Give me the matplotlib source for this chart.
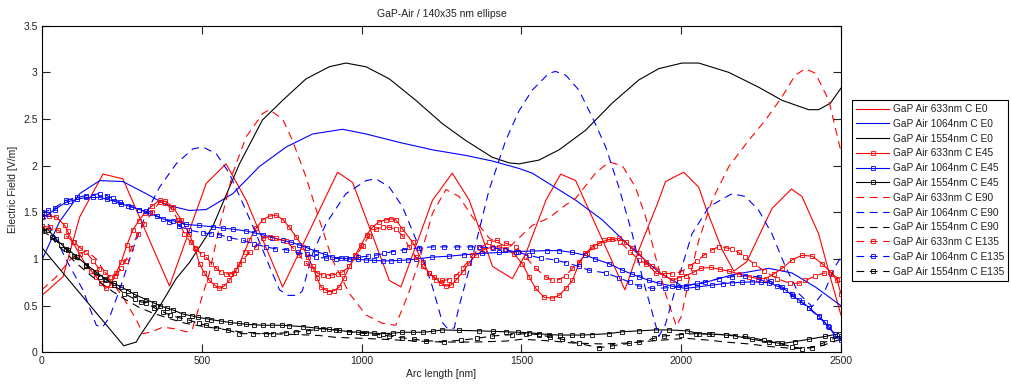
"""
GaP-Air / 140x35 nm ellipse: electric field along the arc length
for three wavelengths and four polarisation angles.
Output: out.png
"""

import matplotlib
matplotlib.use("Agg")
import matplotlib.pyplot as plt
from matplotlib.ticker import FuncFormatter, MultipleLocator

plt.rcParams["font.family"] = ["Liberation Sans", "DejaVu Sans"]

# ---------------------------------------------------------------- data
# E0 (plain solid lines)
x_633_e0 = [0, 66, 118, 191, 253, 399, 514, 576, 639, 753, 925, 972, 1087, 1123, 1222,
            1284, 1337, 1410, 1472, 1514, 1577, 1623, 1670, 1824, 1868, 1930, 1951, 2008,
            2055, 2076, 2128, 2165, 2205, 2284, 2345, 2378, 2430, 2472, 2500]
y_633_e0 = [0.61, 0.81, 1.45, 1.91, 1.86, 0.71, 1.81, 2.02, 1.63, 0.70, 1.93, 1.82, 0.77, 0.70,
            1.63, 1.92, 1.63, 0.92, 0.79, 1.06, 1.63, 1.91, 1.84, 0.67, 1.10, 1.63, 1.83, 1.93,
            1.77, 1.56, 1.10, 0.87, 0.97, 1.54, 1.75, 1.67, 1.27, 0.74, 0.40]

x_1064_e0 = [0, 55, 118, 181, 253, 326, 389, 461, 514, 597, 680, 764, 847, 941, 1014, 1118,
             1222, 1326, 1409, 1493, 1534, 1670, 1753, 1847, 1930, 2003, 2066, 2159, 2274,
             2347, 2420, 2500]
y_1064_e0 = [0.99, 1.40, 1.70, 1.84, 1.83, 1.70, 1.58, 1.52, 1.53, 1.70, 1.99, 2.20, 2.34, 2.39,
             2.34, 2.25, 2.17, 2.11, 2.05, 1.97, 1.92, 1.63, 1.42, 1.11, 0.86, 0.71, 0.74, 0.83,
             0.90, 0.85, 0.70, 0.50]

x_1554_e0 = [0, 256, 295, 305, 368, 420, 461, 534, 618, 690, 753, 826, 899, 951, 1014, 1087,
             1170, 1253, 1326, 1409, 1462, 1493, 1555, 1618, 1701, 1784, 1868, 1930, 2003,
             2055, 2149, 2243, 2316, 2399, 2430, 2467, 2500]
y_1554_e0 = [1.12, 0.07, 0.11, 0.17, 0.49, 0.79, 0.96, 1.345, 2.02, 2.49, 2.70, 2.93, 3.06, 3.10,
             3.06, 2.93, 2.70, 2.45, 2.27, 2.09, 2.03, 2.02, 2.06, 2.17, 2.38, 2.67, 2.92, 3.04,
             3.10, 3.10, 3.00, 2.84, 2.70, 2.60, 2.60, 2.67, 2.83]

# E45 (solid lines with square markers)
x_633_e45 = [0, 22, 45, 71, 80, 97, 118, 139, 155, 170, 185, 199, 215, 232, 248, 266, 284, 303,
             321, 345, 368, 385, 409, 436, 461, 478, 493, 508, 524, 540, 555, 570, 586, 602,
             618, 634, 649, 670, 691, 712, 733, 755, 774, 795, 816, 832, 847, 860, 873, 886,
             899, 914, 930, 946, 962, 980, 998, 1016, 1034, 1055, 1076, 1092, 1107, 1128,
             1160, 1191, 1211, 1227, 1248, 1264, 1280, 1295, 1316, 1337, 1357, 1383, 1409,
             1430, 1451, 1478, 1503, 1524, 1545, 1571, 1597, 1618, 1639, 1660, 1680, 1700,
             1722, 1743, 1774, 1805, 1826, 1847, 1868, 1890, 1920, 1946, 1972, 1993, 2014,
             2040, 2061, 2092, 2120, 2149, 2180, 2211, 2240, 2264, 2290, 2316, 2347, 2378,
             2410, 2441, 2467, 2488, 2500]
y_633_e45 = [1.46, 1.46, 1.45, 1.36, 1.30, 1.18, 1.05, 0.93, 0.87, 0.81, 0.74, 0.685, 0.72, 0.85,
             0.97, 1.15, 1.31, 1.41, 1.49, 1.57, 1.63, 1.62, 1.56, 1.42, 1.27, 1.12, 0.95, 0.85,
             0.77, 0.72, 0.685, 0.71, 0.77, 0.85, 0.95, 1.08, 1.20, 1.33, 1.42, 1.46, 1.47,
             1.42, 1.34, 1.24, 1.13, 1.02, 0.92, 0.80, 0.70, 0.67, 0.65, 0.66, 0.70, 0.80,
             0.92, 1.04, 1.15, 1.26, 1.34, 1.40, 1.42, 1.43, 1.42, 1.32, 1.18, 0.97, 0.85,
             0.81, 0.74, 0.71, 0.72, 0.77, 0.86, 0.96, 1.04, 1.10, 1.13, 1.13, 1.11, 1.05,
             0.95, 0.81, 0.685, 0.59, 0.58, 0.61, 0.685, 0.77, 0.95, 1.06, 1.13, 1.17, 1.21,
             1.22, 1.18, 1.12, 1.06, 0.97, 0.85, 0.83, 0.77, 0.80, 0.82, 0.86, 0.90, 0.91,
             0.89, 0.87, 0.84, 0.81, 0.79, 0.79, 0.84, 0.90, 0.99, 1.04, 1.03, 0.95, 0.86,
             0.77, 0.63]

x_1064_e45 = [0, 20, 40, 76, 89, 110, 139, 160, 181, 202, 225, 248, 280, 305, 337, 378, 410,
              430, 451, 490, 534, 565, 597, 639, 665, 691, 720, 753, 780, 805, 830, 858, 885,
              909, 935, 962, 990, 1014, 1040, 1066, 1092, 1118, 1145, 1170, 1220, 1274, 1320,
              1378, 1430, 1482, 1534, 1580, 1618, 1660, 1700, 1732, 1774, 1816, 1845, 1868,
              1900, 1930, 1970, 2014, 2050, 2097, 2130, 2159, 2190, 2222, 2250, 2274, 2300,
              2326, 2350, 2378, 2400, 2430, 2450, 2462, 2482, 2500]
y_1064_e45 = [1.45, 1.48, 1.53, 1.61, 1.62, 1.64, 1.66, 1.66, 1.66, 1.64, 1.62, 1.59, 1.56, 1.53,
              1.49, 1.43, 1.41, 1.39, 1.37, 1.36, 1.345, 1.33, 1.32, 1.30, 1.28, 1.26, 1.23,
              1.20, 1.18, 1.15, 1.12, 1.08, 1.05, 1.02, 1.01, 1.00, 0.995, 0.99, 0.985, 0.98,
              0.98, 0.985, 0.99, 1.0, 1.02, 1.03, 1.045, 1.06, 1.07, 1.08, 1.085, 1.09, 1.09,
              1.07, 1.04, 1.0, 0.95, 0.88, 0.84, 0.81, 0.77, 0.74, 0.71, 0.685, 0.70, 0.72,
              0.735, 0.745, 0.75, 0.755, 0.75, 0.745, 0.71, 0.67, 0.60, 0.54, 0.48, 0.39, 0.32,
              0.27, 0.18, 0.13]

x_1554_e45 = [0, 20, 45, 76, 83, 110, 139, 170, 201, 225, 248, 270, 290, 326, 350, 368, 390,
              409, 441, 470, 488, 515, 529, 560, 587, 615, 639, 665, 691, 720, 750, 774, 816,
              858, 899, 930, 962, 990, 1014, 1040, 1066, 1097, 1128, 1160, 1191, 1222, 1253,
              1305, 1368, 1410, 1451, 1490, 1524, 1555, 1586, 1620, 1659, 1690, 1722, 1774,
              1816, 1868, 1920, 1962, 2019, 2055, 2097, 2139, 2170, 2222, 2274, 2316, 2357,
              2399, 2451, 2493]
y_1554_e45 = [1.33, 1.31, 1.21, 1.11, 1.10, 1.02, 0.94, 0.86, 0.78, 0.74, 0.70, 0.66, 0.62,
              0.565, 0.53, 0.50, 0.475, 0.455, 0.41, 0.39, 0.375, 0.36, 0.35, 0.335, 0.32,
              0.31, 0.30, 0.295, 0.29, 0.29, 0.29, 0.285, 0.275, 0.26, 0.245, 0.235, 0.22,
              0.215, 0.21, 0.205, 0.20, 0.205, 0.215, 0.215, 0.215, 0.225, 0.24, 0.235, 0.23,
              0.225, 0.22, 0.215, 0.21, 0.20, 0.19, 0.185, 0.185, 0.185, 0.19, 0.20, 0.22,
              0.23, 0.24, 0.24, 0.23, 0.20, 0.195, 0.185, 0.175, 0.14, 0.11, 0.095, 0.115,
              0.14, 0.17, 0.20]

# E90 (plain dashed lines)
x_633_e90 = [0, 45, 90, 139, 170, 206, 253, 295, 316, 345, 378, 420, 451, 470, 482, 524, 555,
             597, 639, 691, 712, 753, 784, 826, 868, 909, 962, 1014, 1066, 1107, 1149, 1180,
             1222, 1264, 1305, 1347, 1400, 1460, 1500, 1534, 1586, 1639, 1670, 1732, 1774,
             1816, 1857, 1889, 1920, 1951, 1985, 2000, 2024, 2055, 2097, 2149, 2211, 2264,
             2316, 2357, 2389, 2420, 2462, 2500]
y_633_e90 = [0.67, 0.81, 1.00, 1.09, 1.00, 0.81, 0.595, 0.35, 0.20, 0.22, 0.27, 0.25, 0.22, 0.24,
             0.38, 0.85, 1.34, 1.92, 2.31, 2.56, 2.60, 2.50, 2.27, 1.88, 1.42, 0.99, 0.63, 0.40,
             0.31, 0.29, 0.65, 0.98, 1.49, 1.745, 1.67, 1.45, 1.22, 1.12, 1.25, 1.36, 1.44,
             1.58, 1.65, 1.92, 2.04, 2.00, 1.77, 1.45, 1.02, 0.63, 0.28, 0.38, 0.77, 1.20, 1.63,
             1.99, 2.27, 2.49, 2.74, 2.97, 3.04, 2.99, 2.70, 2.15]

x_1064_e90 = [0, 40, 76, 128, 170, 190, 212, 243, 284, 326, 368, 420, 472, 503, 545, 586, 628,
              670, 712, 743, 770, 800, 815, 847, 889, 951, 1014, 1045, 1087, 1128, 1180, 1222,
              1253, 1270, 1290, 1305, 1347, 1399, 1451, 1493, 1534, 1586, 1607, 1639, 1680,
              1722, 1764, 1805, 1847, 1878, 1910, 1930, 1951, 1993, 2034, 2087, 2159, 2201,
              2243, 2284, 2326, 2368, 2410, 2451, 2482, 2500]
y_1064_e90 = [1.50, 1.25, 0.99, 0.67, 0.29, 0.27, 0.38, 0.67, 1.10, 1.49, 1.77, 2.02, 2.18, 2.20,
              2.13, 1.92, 1.60, 1.27, 0.92, 0.67, 0.61, 0.61, 0.66, 1.06, 1.38, 1.70, 1.84,
              1.86, 1.77, 1.56, 1.13, 0.70, 0.32, 0.25, 0.26, 0.49, 1.02, 1.74, 2.27, 2.59,
              2.81, 2.99, 3.01, 2.97, 2.81, 2.52, 2.20, 1.77, 1.27, 0.81, 0.42, 0.17, 0.30,
              0.81, 1.27, 1.56, 1.70, 1.67, 1.52, 1.27, 0.92, 0.63, 0.49, 0.67, 0.92, 1.02]

x_1554_e90 = [0, 50, 100, 150, 222, 264, 305, 347, 400, 450, 500, 560, 620, 700, 800, 868, 920,
              1000, 1066, 1150, 1250, 1350, 1450, 1503, 1600, 1660, 1750, 1836, 1900, 2014,
              2087, 2139, 2211, 2284, 2357, 2430, 2500]
y_1554_e90 = [1.35, 1.15, 0.98, 0.83, 0.65, 0.56, 0.48, 0.42, 0.36, 0.31, 0.28, 0.25, 0.22, 0.20,
              0.19, 0.18, 0.16, 0.15, 0.14, 0.125, 0.11, 0.11, 0.12, 0.14, 0.12, 0.10, 0.09,
              0.10, 0.12, 0.15, 0.13, 0.11, 0.09, 0.06, 0.04, 0.06, 0.14]

# E135 (dashed lines with square markers)
x_633_e135 = [0, 25, 50, 75, 99, 120, 139, 160, 180, 196, 212, 230, 248, 262, 280, 300, 320,
              345, 368, 385, 405, 425, 446, 465, 482, 500, 514, 530, 545, 560, 576, 592, 608,
              628, 650, 670, 691, 712, 733, 764, 785, 805, 826, 847, 862, 878, 894, 909, 925,
              940, 962, 982, 1003, 1024, 1045, 1066, 1087, 1108, 1128, 1149, 1170, 1191, 1211,
              1232, 1253, 1274, 1295, 1316, 1347, 1370, 1399, 1425, 1451, 1483, 1514, 1545,
              1576, 1597, 1618, 1639, 1660, 1680, 1705, 1730, 1760, 1785, 1810, 1840, 1868,
              1890, 1910, 1946, 1972, 1998, 2029, 2050, 2071, 2097, 2118, 2139, 2159, 2180,
              2201, 2228, 2260, 2300, 2340, 2368, 2389, 2420, 2447, 2470, 2493]
y_633_e135 = [1.35, 1.34, 1.31, 1.25, 1.18, 1.12, 1.07, 0.98, 0.89, 0.86, 0.81, 0.82, 0.90, 0.98,
              1.12, 1.27, 1.38, 1.50, 1.61, 1.60, 1.54, 1.42, 1.27, 1.18, 1.11, 1.05, 1.02, 0.95,
              0.90, 0.86, 0.84, 0.84, 0.88, 0.99, 1.07, 1.13, 1.22, 1.24, 1.22, 1.19, 1.12,
              1.04, 0.96, 0.89, 0.85, 0.83, 0.82, 0.83, 0.84, 0.86, 0.92, 1.03, 1.14, 1.25,
              1.32, 1.34, 1.34, 1.32, 1.25, 1.13, 1.02, 0.92, 0.85, 0.78, 0.77, 0.78, 0.82,
              0.90, 1.04, 1.12, 1.18, 1.20, 1.17, 1.13, 1.02, 0.90, 0.81, 0.77, 0.78, 0.82,
              0.90, 0.97, 1.06, 1.14, 1.20, 1.21, 1.18, 1.08, 0.99, 0.95, 0.93, 0.85, 0.84,
              0.86, 0.93, 0.98, 1.04, 1.10, 1.13, 1.12, 1.11, 1.07, 1.02, 0.95, 0.87, 0.79,
              0.74, 0.74, 0.77, 0.82, 0.85, 0.84, 0.79]

x_1064_e135 = [0, 20, 40, 76, 110, 139, 181, 202, 222, 243, 270, 305, 326, 360, 399, 430, 461,
               503, 530, 555, 586, 628, 665, 701, 730, 764, 800, 830, 858, 890, 920, 950, 990,
               1020, 1045, 1070, 1097, 1133, 1180, 1222, 1258, 1300, 1340, 1368, 1410, 1450,
               1490, 1524, 1560, 1607, 1640, 1680, 1711, 1764, 1805, 1840, 1868, 1910, 1950,
               1990, 2014, 2050, 2076, 2118, 2159, 2200, 2243, 2280, 2316, 2347, 2368, 2400,
               2430, 2460, 2480, 2500]
y_1064_e135 = [1.50, 1.52, 1.55, 1.63, 1.66, 1.68, 1.70, 1.68, 1.65, 1.61, 1.57, 1.53, 1.51, 1.46,
               1.40, 1.35, 1.31, 1.28, 1.27, 1.26, 1.23, 1.20, 1.16, 1.13, 1.11, 1.10, 1.07,
               1.05, 1.02, 1.01, 1.005, 1.01, 1.02, 1.03, 1.04, 1.06, 1.08, 1.10, 1.12, 1.13,
               1.13, 1.13, 1.13, 1.13, 1.12, 1.10, 1.07, 1.04, 1.01, 0.99, 0.96, 0.92, 0.88,
               0.85, 0.80, 0.75, 0.71, 0.685, 0.69, 0.70, 0.71, 0.74, 0.755, 0.79, 0.81, 0.82,
               0.81, 0.76, 0.70, 0.63, 0.56, 0.47, 0.38, 0.28, 0.20, 0.15]

x_1554_e135 = [0, 30, 60, 100, 139, 181, 196, 225, 258, 290, 311, 326, 350, 378, 400, 430, 461,
               490, 514, 545, 581, 618, 659, 700, 722, 764, 795, 831, 878, 920, 962, 1000, 1055,
               1087, 1128, 1165, 1201, 1258, 1311, 1362, 1409, 1472, 1514, 1555, 1590, 1628,
               1680, 1743, 1785, 1836, 1868, 1915, 1946, 1998, 2045, 2087, 2140, 2200, 2260,
               2300, 2347, 2378, 2410, 2441, 2472, 2500]
y_1554_e135 = [1.30, 1.24, 1.15, 1.03, 0.93, 0.81, 0.79, 0.72, 0.63, 0.57, 0.54, 0.53, 0.48,
               0.435, 0.40, 0.37, 0.345, 0.31, 0.29, 0.265, 0.24, 0.20, 0.20, 0.20, 0.20, 0.21,
               0.22, 0.23, 0.255, 0.24, 0.22, 0.205, 0.19, 0.175, 0.155, 0.14, 0.125, 0.115,
               0.13, 0.15, 0.175, 0.19, 0.20, 0.19, 0.165, 0.14, 0.095, 0.05, 0.07, 0.095, 0.11,
               0.15, 0.175, 0.19, 0.20, 0.195, 0.19, 0.17, 0.13, 0.10, 0.06, 0.04, 0.05, 0.095,
               0.14, 0.18]

LABELS = [
    "GaP Air 633nm C E0", "GaP Air 1064nm C E0", "GaP Air 1554nm C E0",
    "GaP Air 633nm C E45", "GaP Air 1064nm C E45", "GaP Air 1554nm C E45",
    "GaP Air 633nm C E90", "GaP Air 1064nm C E90", "GaP Air 1554nm C E90",
    "GaP Air 633nm C E135", "GaP Air 1064nm C E135", "GaP Air 1554nm C E135",
]

# ---------------------------------------------------------------- plot
series = [
    (x_633_e0, y_633_e0, "r", "-", None),
    (x_1064_e0, y_1064_e0, "b", "-", None),
    (x_1554_e0, y_1554_e0, "k", "-", None),
    (x_633_e45, y_633_e45, "r", "-", "s"),
    (x_1064_e45, y_1064_e45, "b", "-", "s"),
    (x_1554_e45, y_1554_e45, "k", "-", "s"),
    (x_633_e90, y_633_e90, "r", "--", None),
    (x_1064_e90, y_1064_e90, "b", "--", None),
    (x_1554_e90, y_1554_e90, "k", "--", None),
    (x_633_e135, y_633_e135, "r", "--", "s"),
    (x_1064_e135, y_1064_e135, "b", "--", "s"),
    (x_1554_e135, y_1554_e135, "k", "--", "s"),
]

fig = plt.figure(figsize=(10.11, 3.85), dpi=100)
ax = fig.add_axes([0.0415, 0.0849, 0.7903, 0.8483])

for (xs, ys, col, ls, mk), lab in zip(series, LABELS):
    line, = ax.plot(xs, ys, color=col, ls=ls, lw=0.8, marker=mk, ms=3.3,
                    mfc="none", mec=col, mew=0.6, label=lab)
    if ls == "--":
        line.set_dashes((7, 5))

ax.set_xlim(0, 2500)
ax.set_ylim(0, 3.5)
ax.xaxis.set_major_locator(MultipleLocator(500))
ax.yaxis.set_major_locator(MultipleLocator(0.5))
ax.yaxis.set_major_formatter(FuncFormatter(lambda v, _: f"{v:g}"))
ax.tick_params(direction="in", top=True, right=True, length=6, width=0.8,
               labelsize=7.5, pad=3, colors="#222222")
for sp in ax.spines.values():
    sp.set_linewidth(0.8)

ax.set_xlabel("Arc length [nm]", fontsize=7.5, va="center", color="#222222")
ax.xaxis.set_label_coords(0.5, -0.066)
ax.set_ylabel("Electric Field [V/m]", fontsize=7.5, va="center", color="#222222")
ax.yaxis.set_label_coords(-0.036, 0.5)

fig.text(0.4366, 0.964, "GaP-Air / 140x35 nm ellipse", ha="center", va="center",
         fontsize=7.5, color="#222222")

leg = fig.legend(loc="upper left", bbox_to_anchor=(0.843, 0.740), fontsize=7.3,
                 handlelength=3.2, handletextpad=0.4, labelspacing=0.47,
                 borderpad=0.4, borderaxespad=0, fancybox=False, framealpha=1)
leg.get_frame().set_edgecolor("black")
leg.get_frame().set_linewidth(0.8)
for txt in leg.get_texts():
    txt.set_color("#222222")

fig.savefig("out.png", dpi=100)
